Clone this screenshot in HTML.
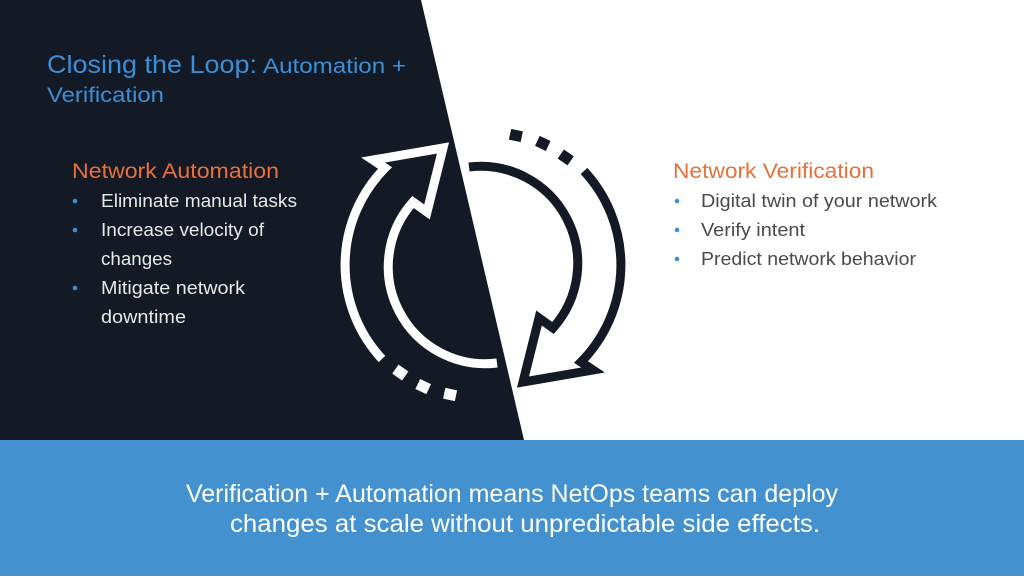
<!DOCTYPE html>
<html><head><meta charset="utf-8"><style>
html,body{margin:0;padding:0;background:#fff;}
svg{display:block;}
text{font-family:"Liberation Sans",sans-serif;}
</style></head><body>
<svg width="1024" height="578" viewBox="0 0 1024 578" xmlns="http://www.w3.org/2000/svg">
<rect width="1024" height="578" fill="#fff"/>
<polygon points="0,0 421,0 524,440 0,440" fill="#131a26"/>
<rect x="0" y="440" width="1024" height="136" fill="#4391cf"/>

<text x="47" y="73" font-size="25" fill="#3b8fd6" textLength="210" lengthAdjust="spacingAndGlyphs">Closing the Loop:</text>
<text x="263" y="73" font-size="21" fill="#3b8fd6" textLength="143" lengthAdjust="spacingAndGlyphs">Automation +</text>
<text x="47" y="102" font-size="21" fill="#3b8fd6" textLength="117" lengthAdjust="spacingAndGlyphs">Verification</text>

<text x="72" y="178" font-size="21" fill="#e8703a" textLength="207" lengthAdjust="spacingAndGlyphs">Network Automation</text>
<g fill="#3b8fd6"><circle cx="75" cy="201" r="2.3"/><circle cx="75" cy="230" r="2.3"/><circle cx="75" cy="288" r="2.3"/></g>
<g font-size="18" fill="#e8e8e8">
<text x="101" y="207" textLength="196" lengthAdjust="spacingAndGlyphs">Eliminate manual tasks</text>
<text x="101" y="236" textLength="163" lengthAdjust="spacingAndGlyphs">Increase velocity of</text>
<text x="101" y="265" textLength="71" lengthAdjust="spacingAndGlyphs">changes</text>
<text x="101" y="294" textLength="144" lengthAdjust="spacingAndGlyphs">Mitigate network</text>
<text x="101" y="323" textLength="85" lengthAdjust="spacingAndGlyphs">downtime</text>
</g>

<text x="673" y="178" font-size="21" fill="#e8703a" textLength="201" lengthAdjust="spacingAndGlyphs">Network Verification</text>
<g fill="#3b8fd6"><circle cx="677" cy="201" r="2.3"/><circle cx="677" cy="230" r="2.3"/><circle cx="677" cy="259" r="2.3"/></g>
<g font-size="18" fill="#4a4a4a">
<text x="701" y="207" textLength="236" lengthAdjust="spacingAndGlyphs">Digital twin of your network</text>
<text x="701" y="236" textLength="104" lengthAdjust="spacingAndGlyphs">Verify intent</text>
<text x="701" y="265" textLength="215" lengthAdjust="spacingAndGlyphs">Predict network behavior</text>
</g>

<!-- left arrow (white) -->
<g fill="none" stroke="#fff" stroke-width="9" stroke-linejoin="miter">
<path d="M382,359 A138,138 0 0 1 385,168 L373,160 L443,148 L427,212 L413,202 A97,97 0 0 0 497,363"/>
</g>
<g fill="#fff">
<rect x="394" y="367" width="12" height="11" transform="rotate(35 400 373)"/>
<rect x="417" y="381" width="12" height="11" transform="rotate(25 423 387)"/>
<rect x="444" y="389" width="12" height="11" transform="rotate(12 450 395)"/>
</g>
<!-- right arrow (dark), 180deg rotation about (483,265) -->
<g transform="rotate(180 483 265)">
<g fill="none" stroke="#131a26" stroke-width="9" stroke-linejoin="miter">
<path d="M382,359 A138,138 0 0 1 385,168 L373,160 L443,148 L427,212 L413,202 A97,97 0 0 0 497,363"/>
</g>
<g fill="#131a26">
<rect x="394" y="367" width="12" height="11" transform="rotate(35 400 373)"/>
<rect x="417" y="381" width="12" height="11" transform="rotate(25 423 387)"/>
<rect x="444" y="389" width="12" height="11" transform="rotate(12 450 395)"/>
</g>
</g>

<g font-size="25" fill="#fff">
<text x="186" y="502" textLength="652" lengthAdjust="spacingAndGlyphs">Verification + Automation means NetOps teams can deploy</text>
<text x="230" y="532" textLength="590" lengthAdjust="spacingAndGlyphs">changes at scale without unpredictable side effects.</text>
</g>
</svg>
</body></html>
